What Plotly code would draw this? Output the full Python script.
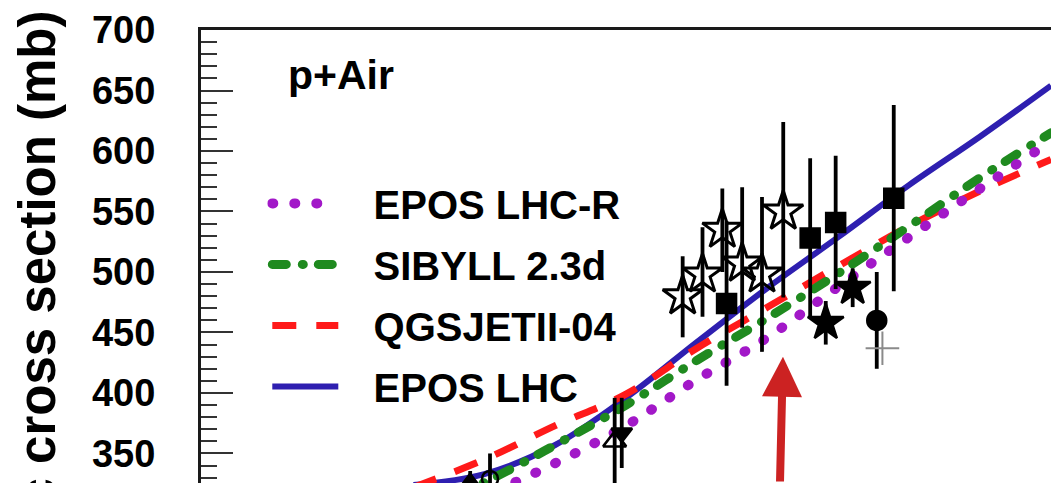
import plotly.graph_objects as go

# Model predictions of the p+Air inelastic cross section vs lg(E/eV)
lg_e = [15.5, 16.0, 16.5, 17.0, 17.5, 18.0, 18.5, 19.0, 19.5, 20.0]
sigma_epos_lhc_r = [292, 315, 342, 373, 411, 446, 488, 529, 569, 608]
sigma_sibyll_23d = [300, 326, 357, 390, 427, 462, 499, 538, 578, 615]
sigma_qgsjet_04 = [322, 345, 373, 399, 437, 471, 505, 538, 567, 593]
sigma_epos_lhc = [324, 333, 357, 396, 442, 487, 529, 572, 612, 654]

# Measurements, grouped by marker style
open_star_e = [17.40, 17.54, 17.68, 17.82, 17.96, 18.11]
open_star_s = [480, 498, 535, 507, 498, 550]
open_star_up = [33, 39, 34, 63, 64, 74]
open_star_dn = [34, 35, 35, 53, 64, 71]

square_e = [17.71, 18.30, 18.48, 18.89]
square_s = [474, 528, 541, 561]
square_err = [68, 66, 55, 77]

full_star_e = [18.41, 18.60]
full_star_s = [458, 487]
full_star_err = [18, 16]

circle_e = [18.77]
circle_s = [460]
circle_err = [40]

cross_e = [18.81]
cross_s = [437]

open_tri_e = [16.92]
open_tri_s = [360]
open_tri_err = [36]

down_tri_e = [16.97]
down_tri_s = [367]
down_tri_err = [29]

open_circ_e = [16.04]
open_circ_s = [329]
open_circ_err = [21]

up_tri_e = [15.90]
up_tri_s = [326.5]
up_tri_err = [9]

y_ticks = [350, 400, 450, 500, 550, 600, 650, 700]

FONT = "Liberation Sans, Arial, Helvetica, sans-serif"
MAGENTA = "#a218c8"
GREEN = "#1f8a1f"
RED = "#ff1a1a"
BLUE = "#2e1fb0"
GAP = "\u00a0\u00a0\u2009"  # space between legend sample and its label

fig = go.Figure()

# model curves (drawing order), legend order set by legendrank
fig.add_trace(go.Scatter(x=lg_e, y=sigma_epos_lhc, mode="lines", name=GAP + "EPOS LHC",
                         line=dict(color=BLUE, width=6, shape="spline"),
                         legendrank=4, legendgroup="d"))
fig.add_trace(go.Scatter(x=lg_e, y=sigma_qgsjet_04, mode="lines", name=GAP + "QGSJETII-04",
                         line=dict(color=RED, width=7, dash="24px,20px", shape="spline"),
                         legendrank=3, legendgroup="c"))
fig.add_trace(go.Scatter(x=lg_e, y=sigma_sibyll_23d, mode="lines", name=GAP + "SIBYLL 2.3d",
                         line=dict(color=GREEN, width=9, dash="14px,16px,1px,15px", shape="spline"),
                         legendrank=2, legendgroup="b"))
fig.add_trace(go.Scatter(x=lg_e, y=sigma_epos_lhc_r, mode="lines", name=GAP + "EPOS LHC-R",
                         line=dict(color=MAGENTA, width=10, dash="1px,21px", shape="spline"),
                         legendrank=1, legendgroup="a"))


def points(x, y, symbol, size, up=None, dn=None, color="black", lw=2.5):
    err = None
    if up is not None:
        err = dict(type="data", array=up, arrayminus=dn if dn is not None else up,
                   symmetric=dn is None, color="black", thickness=3.8, width=0)
    fig.add_trace(go.Scatter(
        x=x, y=y, mode="markers", showlegend=False,
        marker=dict(symbol=symbol, size=size, color=color,
                    line=dict(color=color, width=lw)),
        error_y=err))


points(open_star_e, open_star_s, "star-open", 30, open_star_up, open_star_dn, lw=3)
points(square_e, square_s, "square", 19, square_err)
points(full_star_e, full_star_s, "star", 27, full_star_err)
points(circle_e, circle_s, "circle", 19, circle_err)
points(open_tri_e, open_tri_s, "triangle-up-open", 20, open_tri_err)
points(down_tri_e, down_tri_s, "triangle-down", 18, down_tri_err)
points(open_circ_e, open_circ_s, "circle-open", 16, open_circ_err)
points(up_tri_e, up_tri_s, "triangle-up", 16, up_tri_err)
points(cross_e, cross_s, "cross-thin-open", 24, color="#8a8a8a", lw=2)

fig.add_annotation(x=0.100, y=0.900, xref="paper", yref="paper", text="p+Air",
                   showarrow=False, xanchor="left", yanchor="middle",
                   font=dict(family=FONT, size=41, color="black", weight="bold"))

fig.add_annotation(x=-0.193, y=1.048, xref="paper", yref="paper",
                   text="Inelastic cross section (mb)", textangle=-90,
                   showarrow=False, xanchor="center", yanchor="top",
                   font=dict(family=FONT, size=51, color="black", weight="bold"))

# red arrow marking the energy of interest
fig.add_annotation(x=18.108, y=430, xref="x", yref="y", text="", showarrow=True,
                   ax=-3, ay=130, arrowcolor="#cc2222", arrowwidth=8,
                   arrowhead=2, arrowsize=1.0, standoff=0)

fig.update_layout(
    width=1051, height=483,
    margin=dict(l=201, r=0, t=30, b=0),
    paper_bgcolor="white", plot_bgcolor="white",
    showlegend=True,
    legend=dict(x=0.078, y=0.689, xanchor="left", yanchor="top",
                bgcolor="rgba(0,0,0,0)", itemwidth=66, tracegroupgap=6,
                font=dict(family=FONT, size=40, color="black", weight="bold")),
    xaxis=dict(range=[14, 20], side="top", showline=True, linecolor="#1a1a1a",
               linewidth=3, showgrid=False, zeroline=False, ticks="",
               showticklabels=False),
    yaxis=dict(range=[325.6, 700], tickvals=y_ticks, ticks="inside", ticklen=32,
               tickwidth=2, tickcolor="#333", showline=True, linecolor="#1a1a1a",
               linewidth=3, showgrid=False, zeroline=False, ticklabelstandoff=35,
               tickfont=dict(family=FONT, size=38, color="black", weight="bold"),
               minor=dict(dtick=10, tick0=0, ticks="inside", ticklen=16,
                          tickwidth=2, tickcolor="#333")),
)

round_caps = """
var gd = document.getElementById('{plot_id}');
function roundDots() {
  gd.querySelectorAll('path').forEach(function (p) {
    var s = p.style.stroke;
    if (s === 'rgb(162, 24, 200)' || s === 'rgb(31, 138, 31)') {
      p.style.strokeLinecap = 'round';
    }
  });
}
roundDots();
gd.on('plotly_afterplot', roundDots);
"""

fig.write_html("out.html", post_script=round_caps)
